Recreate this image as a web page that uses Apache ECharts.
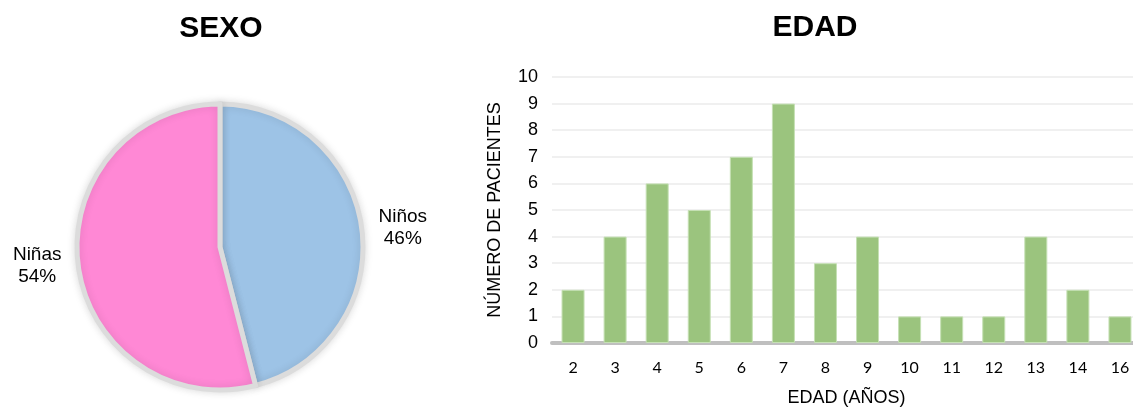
<!DOCTYPE html>
<html>
<head>
<meta charset="utf-8">
<script src="https://cdn.jsdelivr.net/npm/echarts@6/dist/echarts.min.js"></script>
<style>
  html, body { margin: 0; padding: 0; background: #ffffff; }
  #chart { width: 1133px; height: 407px; }
</style>
</head>
<body>
<div id="chart"></div>
<script>
// Sexo de los pacientes
const sexLabels = ['Niños', 'Niñas'];
const sexCounts = [23, 27];
const sexColors = ['#9dc3e6', '#ff88d5'];

// Edad de los pacientes
const ageCategories = ['2', '3', '4', '5', '6', '7', '8', '9', '10', '11', '12', '13', '14', '16'];
const patientCounts = [2, 4, 6, 5, 7, 9, 3, 4, 1, 1, 1, 4, 2, 1];
const yTicks = { min: 0, max: 10, interval: 1 };

const chart = echarts.init(document.getElementById('chart'), null, { renderer: 'canvas' });

const textFont = '"Liberation Sans", Arial, sans-serif';

chart.setOption({
  animation: false,
  backgroundColor: '#ffffff',
  title: [
    {
      text: 'SEXO', left: 216, top: 9, textAlign: 'center',
      textStyle: { fontFamily: textFont, fontSize: 30, fontWeight: 'bold', color: '#000000' }
    },
    {
      text: 'EDAD', left: 810, top: 8, textAlign: 'center',
      textStyle: { fontFamily: textFont, fontSize: 30, fontWeight: 'bold', color: '#000000' }
    }
  ],
  grid: {
    left: 552, top: 77, width: 589, height: 266,
    containLabel: false,
    outerBoundsMode: 'none'
  },
  xAxis: {
    type: 'category',
    data: ageCategories,
    name: 'EDAD (AÑOS)',
    nameLocation: 'middle',
    nameGap: 46,
    nameTextStyle: { fontFamily: textFont, fontSize: 18, color: '#000000' },
    axisLine: { show: true, lineStyle: { color: '#bfbfbf', width: 4 } },
    axisTick: { show: false },
    axisLabel: { fontFamily: 'Lato, "Open Sans", sans-serif', fontSize: 16, color: '#000000', margin: 17 },
    splitLine: { show: false }
  },
  yAxis: {
    type: 'value',
    min: yTicks.min,
    max: yTicks.max,
    interval: yTicks.interval,
    name: 'NÚMERO DE PACIENTES',
    nameLocation: 'middle',
    nameGap: 48,
    nameTextStyle: { fontFamily: textFont, fontSize: 18, color: '#000000' },
    axisLine: { show: false },
    axisTick: { show: false },
    axisLabel: { fontFamily: textFont, fontSize: 18, color: '#000000', margin: 14 },
    splitLine: { show: true, lineStyle: { color: '#f0f0f0', width: 2 } }
  },
  series: [
    {
      type: 'pie',
      center: [220, 247],
      radius: 143,
      startAngle: 90,
      clockwise: true,
      avoidLabelOverlap: false,
      data: sexLabels.map((name, i) => ({
        name: name,
        value: sexCounts[i],
        itemStyle: { color: sexColors[i] }
      })),
      itemStyle: {
        borderColor: '#dcdcdc',
        borderWidth: 5,
        shadowBlur: 8,
        shadowColor: 'rgba(0,0,0,0.12)'
      },
      label: {
        show: true,
        position: 'outside',
        distanceToLabelLine: 5,
        formatter: '{t|{b}}\n{t|{d}%}',
        rich: {
          t: {
            fontFamily: textFont,
            fontSize: 19,
            lineHeight: 22,
            color: '#000000',
            width: 52,
            align: 'center'
          }
        }
      },
      labelLine: { show: false, length: 10, length2: 0 },
      emphasis: { disabled: true }
    },
    {
      type: 'bar',
      data: patientCounts,
      barWidth: 23,
      itemStyle: {
        color: '#9bc47e',
        borderColor: '#c5e0b4',
        borderWidth: 1
      },
      emphasis: { disabled: true }
    }
  ]
});
</script>
</body>
</html>
